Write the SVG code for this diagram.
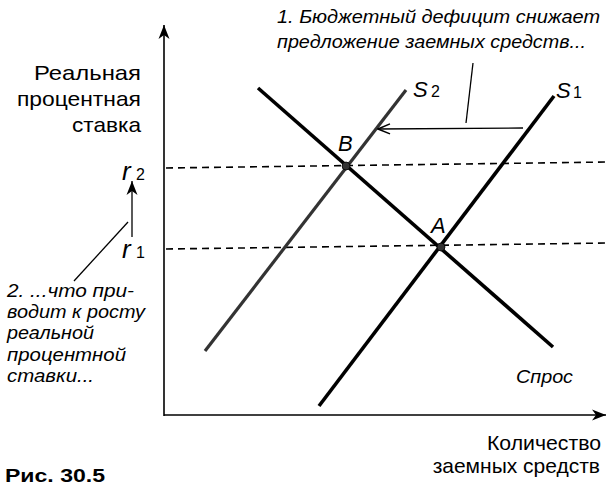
<svg xmlns="http://www.w3.org/2000/svg" width="608" height="486" viewBox="0 0 608 486">
<style>
.ax{stroke:#000;stroke-width:1.6;fill:none}
.dash{stroke:#000;stroke-width:1.6;stroke-dasharray:7 5;fill:none}
.curve{stroke:#000;stroke-width:3.6;fill:none}
.s2{stroke:#333;stroke-width:3.2;fill:none}
.thin{stroke:#000;stroke-width:1.3;fill:none}
.lbl{font-family:"Liberation Sans",Arial,sans-serif;font-size:21px;fill:#000}
.it{font-family:"Liberation Sans",Arial,sans-serif;font-style:italic;font-size:18.5px;fill:#000}
.var{font-family:"Liberation Sans",Arial,sans-serif;font-style:italic;font-size:22px;fill:#000}
.r{font-family:"Liberation Sans",Arial,sans-serif;font-style:italic;font-size:26px;fill:#000}
.sub{font-family:"Liberation Sans",Arial,sans-serif;font-size:16px;fill:#000}
.pt{fill:#333;stroke:#000;stroke-width:0.8}
</style>
<defs>
<marker id="ah" markerUnits="userSpaceOnUse" markerWidth="16" markerHeight="12" refX="14" refY="6" orient="auto">
<path d="M0,0.5 L14,6 L0,11.5 L4,6 z" fill="#000"/>
</marker>
<marker id="ahs" markerUnits="userSpaceOnUse" markerWidth="14" markerHeight="12" refX="13" refY="6" orient="auto">
<path d="M1,1 L13,6 L1,11" fill="none" stroke="#000" stroke-width="1.5"/>
</marker>
</defs>

<g id="connectors">
<line id="y-axis" class="ax" x1="164" y1="416" x2="164" y2="25" marker-end="url(#ah)"/>
<line id="x-axis" class="ax" x1="164" y1="415" x2="606" y2="415" marker-end="url(#ah)"/>
<line id="r2-line" class="dash" x1="166" y1="168" x2="608" y2="162"/>
<line id="r1-line" class="dash" x1="166" y1="249" x2="608" y2="243"/>
<line id="demand" class="curve" x1="258" y1="88" x2="553" y2="347"/>
<line id="s1" class="curve" x1="554" y1="96" x2="319" y2="406"/>
<line id="s2" class="s2" x1="406" y1="90" x2="205" y2="351"/>
<line id="shift" class="thin" x1="523" y1="128" x2="378" y2="129" marker-end="url(#ahs)"/>
<line id="leader1" class="thin" x1="473" y1="63" x2="466" y2="123"/>
<line id="r-arrow" class="thin" x1="132" y1="237" x2="132" y2="181" marker-end="url(#ah)"/>
<line id="leader2" class="thin" x1="128" y1="222" x2="74" y2="281"/>
</g>

<g id="point-B"><circle class="pt" cx="346" cy="166" r="4"/><text class="var" x="338" y="151">B</text></g>
<g id="point-A"><circle class="pt" cx="441" cy="247" r="4"/><text class="var" x="431" y="233">A</text></g>

<g id="label-S2"><text class="var" x="413" y="97">S</text><text class="sub" x="431" y="97">2</text></g>
<g id="label-S1"><text class="var" x="556" y="98">S</text><text class="sub" x="573" y="98">1</text></g>

<g id="y-label">
<text class="lbl" x="141" y="80" text-anchor="end" textLength="107" lengthAdjust="spacingAndGlyphs">Реальная</text>
<text class="lbl" x="141" y="106" text-anchor="end" textLength="124" lengthAdjust="spacingAndGlyphs">процентная</text>
<text class="lbl" x="141" y="132" text-anchor="end" textLength="69" lengthAdjust="spacingAndGlyphs">ставка</text>
</g>

<g id="r2"><text class="r" x="122" y="180">r</text><text class="sub" x="136" y="180">2</text></g>
<g id="r1"><text class="r" x="122" y="258">r</text><text class="sub" x="136" y="258">1</text></g>

<g id="note1">
<text class="it" x="277" y="23" textLength="323" lengthAdjust="spacingAndGlyphs">1. Бюджетный дефицит снижает</text>
<text class="it" x="277" y="48" textLength="309" lengthAdjust="spacingAndGlyphs">предложение заемных средств...</text>
</g>

<g id="note2">
<text class="it" x="7" y="297" textLength="127" lengthAdjust="spacingAndGlyphs">2. ...что при-</text>
<text class="it" x="7" y="318" textLength="138" lengthAdjust="spacingAndGlyphs">водит к росту</text>
<text class="it" x="7" y="339" textLength="87" lengthAdjust="spacingAndGlyphs">реальной</text>
<text class="it" x="7" y="361" textLength="119" lengthAdjust="spacingAndGlyphs">процентной</text>
<text class="it" x="7" y="382" textLength="87" lengthAdjust="spacingAndGlyphs">ставки...</text>
</g>

<g id="demand-label"><text class="it" x="516" y="383" textLength="57" lengthAdjust="spacingAndGlyphs">Спрос</text></g>

<g id="x-label">
<text class="lbl" x="601" y="450" text-anchor="end" textLength="114" lengthAdjust="spacingAndGlyphs">Количество</text>
<text class="lbl" x="600" y="473" text-anchor="end" font-size="20">заемных средств</text>
</g>

<g id="caption"><text x="5" y="482" font-family="'Liberation Sans',Arial,sans-serif" font-weight="bold" font-size="18" textLength="100" lengthAdjust="spacingAndGlyphs">Рис. 30.5</text></g>
</svg>
